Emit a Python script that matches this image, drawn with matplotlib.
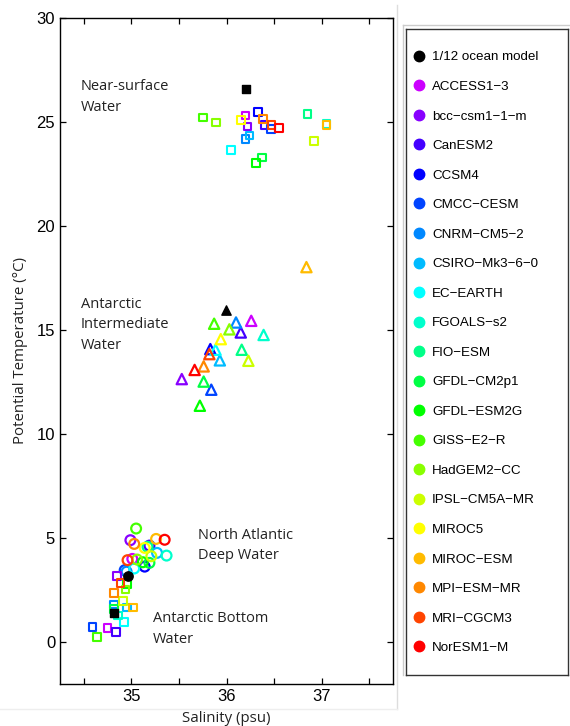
import numpy as np
import matplotlib.pyplot as plt
from matplotlib.lines import Line2D

# models and colours (legend order)
models = ['ACCESS1-3', 'bcc-csm1-1-m', 'CanESM2', 'CCSM4', 'CMCC-CESM', 'CNRM-CM5-2',
          'CSIRO-Mk3-6-0', 'EC-EARTH', 'FGOALS-s2', 'FIO-ESM', 'GFDL-CM2p1', 'GFDL-ESM2G',
          'GISS-E2-R', 'HadGEM2-CC', 'IPSL-CM5A-MR', 'MIROC5', 'MIROC-ESM', 'MPI-ESM-MR',
          'MRI-CGCM3', 'NorESM1-M']
colors = ['#cc00ff', '#8800ff', '#4400ff', '#0000ff', '#0044ff', '#0088ff',
          '#00bbff', '#00ffff', '#00ffcc', '#00ff88', '#00ff44', '#00ff00',
          '#44ff00', '#88ff00', '#ccff00', '#ffff00', '#ffbb00', '#ff8800',
          '#ff4400', '#ff0000']

# near-surface water (squares)
ns_S = [36.20, 36.22, 36.40, 36.33, 36.47, 36.20, 36.24, 36.05, 37.05, 36.85,
        36.37, 36.31, 35.75, 35.89, 36.92, 36.155, 37.05, 36.385, 36.475, 36.55]
ns_T = [25.31, 24.78, 24.85, 25.47, 24.66, 24.19, 24.35, 23.65, 24.90, 25.39,
        23.29, 23.04, 25.21, 24.97, 24.10, 25.09, 24.86, 25.14, 24.86, 24.72]
# antarctic intermediate water (triangles)
aaiw_S = [36.26, 35.53, 36.15, 35.83, 35.84, 36.10, 35.93, 35.885, 36.39, 36.16,
          35.76, 35.72, 35.87, 36.03, 36.23, 35.94, 36.84, 35.76, 35.82, 35.665]
aaiw_T = [15.45, 12.65, 14.89, 14.09, 12.14, 15.37, 13.55, 14.06, 14.77, 14.06,
          12.53, 11.37, 15.31, 15.04, 13.53, 14.57, 18.03, 13.26, 13.85, 13.09]
# north atlantic deep water (circles)
nadw_S = [35.01, 34.99, 35.19, 35.14, 34.93, 34.95, 35.27, 35.03, 35.37, 35.17,
          35.19, 35.12, 35.05, 35.06, 35.21, 35.14, 35.26, 35.03, 34.96, 35.35]
nadw_T = [4.01, 4.91, 4.65, 3.64, 3.47, 3.40, 4.30, 3.55, 4.17, 4.59,
          3.82, 3.85, 5.47, 3.98, 4.14, 4.54, 4.97, 4.73, 3.95, 4.93]
# antarctic bottom water (squares)
aabw_S = [34.75, 34.85, 34.84, np.nan, 34.59, 34.82, 34.955, 34.92, 34.86, np.nan,
          34.82, 34.955, 34.64, 34.94, 34.91, np.nan, 35.02, 34.82, 34.886, np.nan]
aabw_T = [0.70, 3.20, 0.49, np.nan, 0.75, 1.82, 1.67, 0.99, 1.29, np.nan,
          1.61, 2.80, 0.27, 2.54, 1.98, np.nan, 1.67, 2.36, 2.85, np.nan]

# 1/12 ocean model
ocean_S = [36.20, 35.99, 34.966, 34.82]
ocean_T = [26.58, 15.95, 3.20, 1.39]
ocean_mk = ['s', '^', 'o', 's']

fig = plt.figure(figsize=(5.7, 7.26), dpi=100)
ax = fig.add_axes([60/570, 1-684/726, 333/570, 666/726])

ax.scatter(ns_S, ns_T, marker='s', s=30, facecolors='none', edgecolors=colors, linewidths=1.5)
ax.scatter(aaiw_S, aaiw_T, marker='^', s=55, facecolors='none', edgecolors=colors, linewidths=1.6)
ax.scatter(nadw_S, nadw_T, marker='o', s=50, facecolors='none', edgecolors=colors, linewidths=1.6)
ax.scatter(aabw_S, aabw_T, marker='s', s=30, facecolors='none', edgecolors=colors, linewidths=1.5)
for s, t, m in zip(ocean_S, ocean_T, ocean_mk):
    ax.scatter(s, t, marker=m, s=45 if m != 's' else 35, color='black', zorder=5)

ax.set_xlim(34.25, 37.75)
ax.set_ylim(-2, 30)
ax.set_xticks([35, 36, 37])
ax.set_xticks(np.arange(34.5, 37.75, 0.5), minor=True)
ax.set_yticks(np.arange(0, 31, 5))
ax.tick_params(which='both', direction='in', top=True, right=True, length=4, width=0.9)
ax.tick_params(labelsize=12)
for lab in ax.get_xticklabels() + ax.get_yticklabels():
    lab.set_fontfamily('Liberation Sans')
for sp in ax.spines.values():
    sp.set_linewidth(1.0)

lab_font = dict(family='Open Sans', fontsize=10.8, color='#222222')
ax.set_xlabel('Salinity (psu)', labelpad=5, **lab_font)
ax.set_ylabel('Potential Temperature (°C)', labelpad=6, **lab_font)

txt = dict(family='Open Sans', fontsize=10.5, color='#222222', va='top', ha='left', linespacing=1.5)
ax.text(34.47, 27.05, 'Near-surface\nWater', **txt)
ax.text(34.47, 16.6, 'Antarctic\nIntermediate\nWater', **txt)
ax.text(35.7, 5.5, 'North Atlantic\nDeep Water', **txt)
ax.text(35.23, 1.5, 'Antarctic Bottom\nWater', **txt)

# light panel borders
fig.add_artist(Line2D([397/570, 397/570], [1-5/726, 1-709/726], color='#dddddd', lw=1))
fig.add_artist(Line2D([0, 397/570], [1-709/726, 1-709/726], color='#eeeeee', lw=1))
fig.add_artist(Line2D([403/570, 403/570], [1-25/726, 1-675/726], color='#cccccc', lw=1))
fig.add_artist(Line2D([403/570, 1], [1-25/726, 1-25/726], color='#cccccc', lw=1))

# legend box
lax = fig.add_axes([406/570, 1-675/726, 162/570, 646/726])
lax.set_xticks([])
lax.set_yticks([])
for sp in lax.spines.values():
    sp.set_linewidth(1.0)
    sp.set_color('#333333')
handles = [Line2D([], [], ls='none', marker='o', color='black', markersize=7.5)]
handles += [Line2D([], [], ls='none', marker='o', color=c, markersize=7.5) for c in colors]
labels = ['1/12 ocean model'] + [m.replace('-', '\u2212') for m in models]
lax.legend(handles, labels, loc='upper left', frameon=False, labelspacing=1.29,
           handlelength=0.8, handletextpad=0.55, borderaxespad=0,
           bbox_to_anchor=(0.017, 0.974),
           prop={'family': 'Liberation Sans', 'size': 9.6})

fig.savefig('out.png', dpi=100)
